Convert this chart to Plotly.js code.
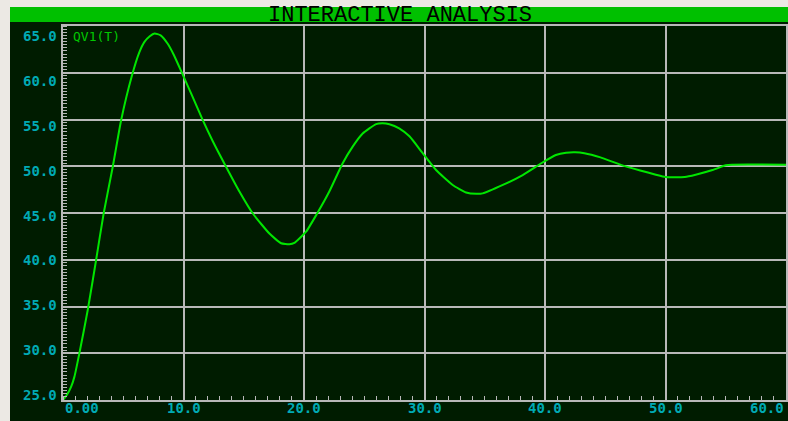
<!DOCTYPE html>
<html>
<head>
<meta charset="utf-8">
<script src="https://cdn.plot.ly/plotly-3.0.1.min.js"></script>
<style>html,body{margin:0;padding:0;background:#ece9e4;}#chart{width:788px;height:421px;}</style>
</head>
<body>
<div id="chart"></div>
<script>
// Time (x) values
var timeValues = [0, 0.3, 0.67, 0.95, 1.36, 2.05, 2.75, 3.38, 4.13, 4.82, 5.7, 6.34, 6.76, 7.2, 7.6, 8.1, 8.69, 9.2, 9.9,
  10.63, 11.59, 12.42, 13.53, 14.64, 15.74, 17.13, 18.1, 18.79, 19.2, 20.17, 21.1, 22.1, 23.2, 24.04, 24.87,
  25.98, 26.5, 27.09, 27.9, 28.75, 29.85, 30.96, 32.34, 33.45, 34.3, 34.83, 36.5, 38.15, 39.8, 40.9, 41.75,
  42.5, 43.27, 44.6, 46.3, 47.9, 49.2, 50.0, 50.8, 51.6, 52.5, 53.9, 55.0, 55.5, 60];
// QV1(T) values
var qv1Values = [25, 25.5, 26.4, 27.5, 30.0, 34.6, 40.0, 45.0, 49.95, 54.9, 59.6, 62.2, 63.3, 63.9, 64.2, 64.0, 63.1, 61.9, 59.9,
  57.8, 54.95, 52.7, 49.95, 47.3, 44.97, 42.8, 41.76, 41.65, 41.8, 43.0, 44.97, 47.3, 50.3, 52.1, 53.5,
  54.5, 54.6, 54.5, 54.06, 53.2, 51.4, 49.6, 48.0, 47.2, 47.05, 47.1, 48.0, 49.06, 50.4, 51.2, 51.45,
  51.5, 51.4, 50.95, 50.15, 49.55, 49.1, 48.85, 48.82, 48.85, 49.1, 49.6, 50.1, 50.17, 50.17];

var xTickValues = [0, 10, 20, 30, 40, 50, 60];
var xTickLabels = ['0.00', '10.0', '20.0', '30.0', '40.0', '50.0', '60.0'];
var yTickValues = [25, 30, 35, 40, 45, 50, 55, 60, 65];
var yTickLabels = ['25.0', '30.0', '35.0', '40.0', '45.0', '50.0', '55.0', '60.0', '65.0'];
var chartTitle = 'INTERACTIVE ANALYSIS';
var traceLabel = 'QV1(T)';

var W = 788, H = 421, ML = 63, MR = 2, MT = 26, MB = 21;
var PW = W - ML - MR, PH = H - MT - MB;
function px2x(p) { return (p - ML) / PW; }
function px2y(p) { return (H - MB - p) / PH; }

var labelColor = '#00aab4';
var gridColor = '#b8b8b8';
var tickFont = {family: 'DejaVu Sans Mono', size: 14, color: labelColor, weight: 'bold'};

var annotations = [];
xTickValues.forEach(function (v, i) {
  annotations.push({
    x: v, xref: 'x', y: px2y(408), yref: 'paper',
    text: xTickLabels[i], showarrow: false,
    xanchor: i === 0 ? 'left' : (i === xTickValues.length - 1 ? 'right' : 'center'),
    yanchor: 'middle', font: tickFont
  });
});
yTickValues.forEach(function (v, i) {
  annotations.push({
    x: px2x(59), xref: 'paper', y: v, yref: 'y',
    text: yTickLabels[i], showarrow: false,
    xanchor: 'right', yanchor: 'middle',
    yshift: -10 + (65 - v) * 0.375,
    font: tickFont
  });
});
annotations.push({
  x: px2x(400), xref: 'paper', y: px2y(15.5), yref: 'paper',
  text: chartTitle, showarrow: false, xanchor: 'center', yanchor: 'middle',
  font: {family: 'Liberation Mono', size: 22, color: '#000000'}
});
annotations.push({
  x: px2x(71), xref: 'paper', y: px2y(36), yref: 'paper',
  text: traceLabel, showarrow: false, xanchor: 'left', yanchor: 'middle',
  font: {family: 'DejaVu Sans Mono', size: 13, color: '#00c800'}
});

var shapes = [
  {type: 'rect', xref: 'paper', yref: 'paper', layer: 'below',
   x0: px2x(10), x1: px2x(790), y0: px2y(423), y1: px2y(22),
   fillcolor: '#001c00', line: {width: 0}},
  {type: 'rect', xref: 'paper', yref: 'paper', layer: 'below',
   x0: px2x(10), x1: px2x(790), y0: px2y(22), y1: px2y(7),
   fillcolor: '#00c000', line: {width: 0}}
];

var trace = {
  x: timeValues, y: qv1Values, type: 'scatter', mode: 'lines',
  line: {color: '#00e600', width: 2, shape: 'spline', smoothing: 0.5},
  hoverinfo: 'skip'
};

var layout = {
  width: W, height: H,
  margin: {l: ML, r: MR, t: MT, b: MB, pad: 0, autoexpand: false},
  paper_bgcolor: '#ece9e4',
  plot_bgcolor: '#001c00',
  showlegend: false,
  xaxis: {
    range: [0, 60], tickmode: 'array', tickvals: xTickValues, showticklabels: false,
    showgrid: true, gridcolor: gridColor, gridwidth: 2, zeroline: false,
    showline: true, linecolor: gridColor, linewidth: 2, mirror: true, ticks: '',
    minor: {dtick: 1, ticks: 'inside', ticklen: 4, tickcolor: gridColor, tickwidth: 1, showgrid: false},
    fixedrange: true
  },
  yaxis: {
    range: [25, 65], tickmode: 'array', tickvals: yTickValues, showticklabels: false,
    showgrid: true, gridcolor: gridColor, gridwidth: 2, zeroline: false,
    showline: true, linecolor: gridColor, linewidth: 2, mirror: true, ticks: '',
    minor: {dtick: 1 / 3, tick0: 25, ticks: 'inside', ticklen: 4, tickcolor: gridColor, tickwidth: 1, showgrid: false},
    fixedrange: true
  },
  annotations: annotations,
  shapes: shapes
};

Plotly.newPlot('chart', [trace], layout, {displayModeBar: false, staticPlot: true});
</script>
</body>
</html>
